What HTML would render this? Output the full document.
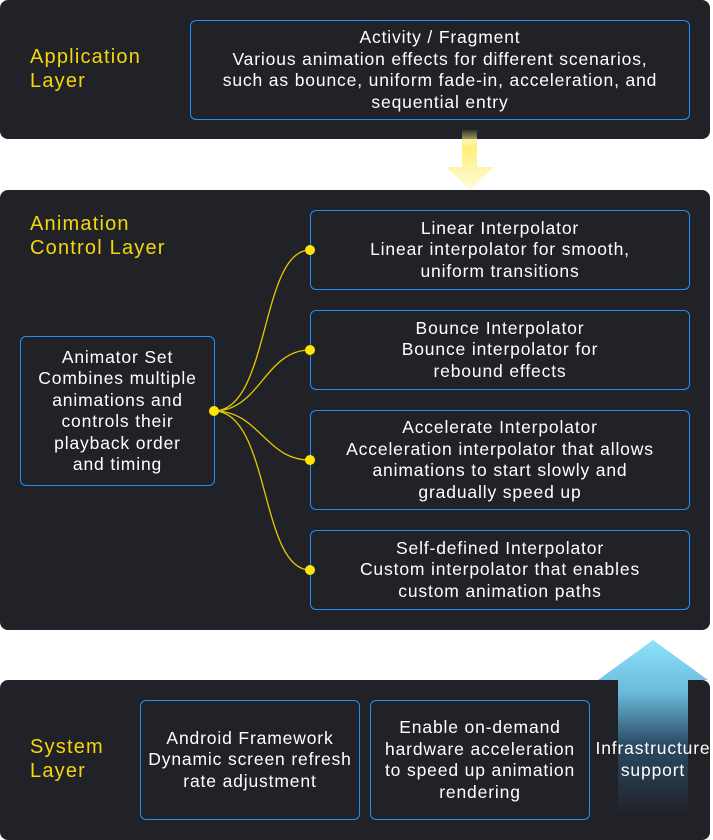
<!DOCTYPE html>
<html><head><meta charset="utf-8"><style>
*{margin:0;padding:0;box-sizing:border-box}
body{width:713px;height:840px;background:#fff;position:relative;overflow:hidden;font-family:"Liberation Sans",sans-serif}
.p{position:absolute;background:#202228;border-radius:8px}
.b{position:absolute;border:1px solid #1f8fff;border-radius:6px;color:#fff;font-size:17.5px;letter-spacing:0.85px;line-height:21.5px;text-align:center;display:flex;align-items:center;justify-content:center;white-space:nowrap}
.l{position:absolute;color:#f5d70a;font-size:20px;letter-spacing:1.2px;line-height:24px}
svg{z-index:2}
</style></head><body>
<div class="p" style="left:0;top:0;width:710px;height:139px"></div>
<div class="p" style="left:0;top:190px;width:710px;height:440px"></div>
<div class="p" style="left:0;top:680px;width:710px;height:160px"></div>
<div class="l" style="left:30px;top:45px">Application<br>Layer</div>
<div class="l" style="left:30px;top:212px">Animation<br>Control Layer</div>
<div class="l" style="left:30px;top:735px">System<br>Layer</div>
<div class="b" style="left:190px;top:20px;width:500px;height:100px">Activity / Fragment<br>Various animation effects for different scenarios,<br>such as bounce, uniform fade-in, acceleration, and<br>sequential entry</div>
<div class="b" style="left:20px;top:336px;width:195px;height:150px">Animator Set<br>Combines multiple<br>animations and<br>controls their<br>playback order<br>and timing</div>
<div class="b" style="left:310px;top:210px;width:380px;height:80px">Linear Interpolator<br>Linear interpolator for smooth,<br>uniform transitions</div>
<div class="b" style="left:310px;top:310px;width:380px;height:80px">Bounce Interpolator<br>Bounce interpolator for<br>rebound effects</div>
<div class="b" style="left:310px;top:410px;width:380px;height:100px">Accelerate Interpolator<br>Acceleration interpolator that allows<br>animations to start slowly and<br>gradually speed up</div>
<div class="b" style="left:310px;top:530px;width:380px;height:80px">Self-defined Interpolator<br>Custom interpolator that enables<br>custom animation paths</div>
<svg style="position:absolute;left:0;top:0" width="713" height="840">
<defs>
<linearGradient id="dg" x1="0" y1="130" x2="0" y2="190" gradientUnits="userSpaceOnUse"><stop offset="0" stop-color="#fff07a" stop-opacity="0.1"/><stop offset="0.3" stop-color="#fff07a"/><stop offset="1" stop-color="#fffbe0"/></linearGradient>
<linearGradient id="ug" x1="0" y1="640" x2="0" y2="815" gradientUnits="userSpaceOnUse"><stop offset="0" stop-color="#8ee3fc"/><stop offset="0.3" stop-color="#6bb9dc"/><stop offset="0.6" stop-color="#2b4a62"/><stop offset="1" stop-color="#202228"/></linearGradient>
</defs>
<path d="M462 130H477V167H494L470 190L446 167H462Z" fill="url(#dg)"/>
<path d="M618 815V680H598L653 640L708 680H688V815Z" fill="url(#ug)"/>
<g fill="none" stroke="#e8c800" stroke-width="1.3">
<path d="M214 411C270 411 260 250 310 250"/>
<path d="M214 411C260 411 265 350 310 350"/>
<path d="M214 411C260 411 265 460 310 460"/>
<path d="M214 411C270 411 260 570 310 570"/>
</g>
<g fill="#ffe500"><circle cx="214" cy="411" r="5"/><circle cx="310" cy="250" r="5"/><circle cx="310" cy="350" r="5"/><circle cx="310" cy="460" r="5"/><circle cx="310" cy="570" r="5"/></g>
</svg>
<div class="b" style="left:140px;top:700px;width:220px;height:120px">Android Framework<br>Dynamic screen refresh<br>rate adjustment</div>
<div class="b" style="left:370px;top:700px;width:220px;height:120px">Enable on-demand<br>hardware acceleration<br>to speed up animation<br>rendering</div>
<div style="position:absolute;left:588px;top:737px;width:130px;color:#fff;font-size:17.5px;letter-spacing:0.85px;line-height:22px;text-align:center;z-index:3;white-space:nowrap">Infrastructure<br>support</div>
</body></html>
